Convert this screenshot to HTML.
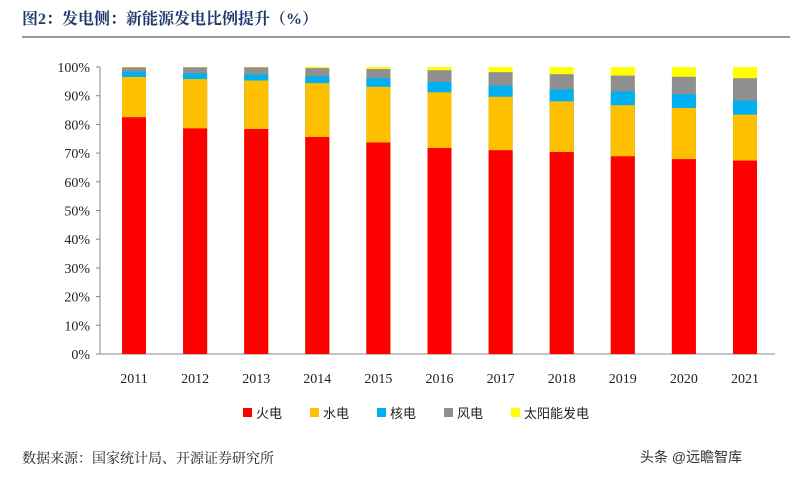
<!DOCTYPE html>
<html><head><meta charset="utf-8"><style>
html,body{margin:0;padding:0;background:#fff;width:796px;height:486px;overflow:hidden}
</style></head><body>
<svg width="796" height="486" xmlns="http://www.w3.org/2000/svg">
<text x="22" y="24" font-family="'Liberation Serif','Noto Serif CJK SC',serif" font-weight="bold" font-size="16" fill="#1f3a6a">图2：发电侧：新能源发电比例提升（%）</text>
<line x1="22" y1="37" x2="790" y2="37" stroke="#777" stroke-width="1.5"/>

<g font-family="'Liberation Serif',serif" font-size="14" fill="#222" text-anchor="end">
<text x="90" y="359">0%</text><text x="90" y="330.3">10%</text><text x="90" y="301.6">20%</text><text x="90" y="272.9">30%</text><text x="90" y="244.2">40%</text><text x="90" y="215.5">50%</text><text x="90" y="186.8">60%</text><text x="90" y="158.1">70%</text><text x="90" y="129.4">80%</text><text x="90" y="100.7">90%</text><text x="90" y="72">100%</text>
</g>
<g stroke="#888">
<line x1="100" y1="67" x2="100" y2="354"/><line x1="100" y1="354" x2="775" y2="354"/>
<line x1="96" y1="354" x2="100" y2="354"/><line x1="96" y1="325.3" x2="100" y2="325.3"/><line x1="96" y1="296.6" x2="100" y2="296.6"/><line x1="96" y1="267.9" x2="100" y2="267.9"/><line x1="96" y1="239.2" x2="100" y2="239.2"/><line x1="96" y1="210.5" x2="100" y2="210.5"/><line x1="96" y1="181.8" x2="100" y2="181.8"/><line x1="96" y1="153.1" x2="100" y2="153.1"/><line x1="96" y1="124.4" x2="100" y2="124.4"/><line x1="96" y1="95.7" x2="100" y2="95.7"/><line x1="96" y1="67" x2="100" y2="67"/>
</g>

<!-- bars: layered from top -->
<g>
<!-- 2011 -->
<rect x="122" y="67" width="24" height="287" fill="#ffff00"/><rect x="122" y="67.3" width="24" height="286.7" fill="#909090"/><rect x="122" y="71.6" width="24" height="282.4" fill="#00b0f0"/><rect x="122" y="77" width="24" height="277" fill="#ffc000"/><rect x="122" y="117.2" width="24" height="236.8" fill="#ff0000"/>
<!-- 2012 -->
<rect x="183.1" y="67" width="24" height="287" fill="#ffff00"/><rect x="183.1" y="67.3" width="24" height="286.7" fill="#909090"/><rect x="183.1" y="73.3" width="24" height="280.7" fill="#00b0f0"/><rect x="183.1" y="79.1" width="24" height="274.9" fill="#ffc000"/><rect x="183.1" y="128.4" width="24" height="225.6" fill="#ff0000"/>
<!-- 2013 -->
<rect x="244.2" y="67" width="24" height="287" fill="#ffff00"/><rect x="244.2" y="67.3" width="24" height="286.7" fill="#909090"/><rect x="244.2" y="74.5" width="24" height="279.5" fill="#00b0f0"/><rect x="244.2" y="80.5" width="24" height="273.5" fill="#ffc000"/><rect x="244.2" y="129" width="24" height="225" fill="#ff0000"/>
<!-- 2014 -->
<rect x="305.3" y="67" width="24" height="287" fill="#ffff00"/><rect x="305.3" y="68.1" width="24" height="285.9" fill="#909090"/><rect x="305.3" y="76.5" width="24" height="277.5" fill="#00b0f0"/><rect x="305.3" y="83.1" width="24" height="270.9" fill="#ffc000"/><rect x="305.3" y="137" width="24" height="217" fill="#ff0000"/>
<!-- 2015 -->
<rect x="366.4" y="67" width="24" height="287" fill="#ffff00"/><rect x="366.4" y="69" width="24" height="285" fill="#909090"/><rect x="366.4" y="78.2" width="24" height="275.8" fill="#00b0f0"/><rect x="366.4" y="86.8" width="24" height="267.2" fill="#ffc000"/><rect x="366.4" y="142.5" width="24" height="211.5" fill="#ff0000"/>
<!-- 2016 -->
<rect x="427.5" y="67" width="24" height="287" fill="#ffff00"/><rect x="427.5" y="70.2" width="24" height="283.8" fill="#909090"/><rect x="427.5" y="81.9" width="24" height="272.1" fill="#00b0f0"/><rect x="427.5" y="92.3" width="24" height="261.7" fill="#ffc000"/><rect x="427.5" y="148" width="24" height="206" fill="#ff0000"/>
<!-- 2017 -->
<rect x="488.6" y="67" width="24" height="287" fill="#ffff00"/><rect x="488.6" y="72.2" width="24" height="281.8" fill="#909090"/><rect x="488.6" y="85.7" width="24" height="268.3" fill="#00b0f0"/><rect x="488.6" y="96.8" width="24" height="257.2" fill="#ffc000"/><rect x="488.6" y="150.2" width="24" height="203.8" fill="#ff0000"/>
<!-- 2018 -->
<rect x="549.7" y="67" width="24" height="287" fill="#ffff00"/><rect x="549.7" y="74.2" width="24" height="279.8" fill="#909090"/><rect x="549.7" y="89.4" width="24" height="264.6" fill="#00b0f0"/><rect x="549.7" y="101.4" width="24" height="252.6" fill="#ffc000"/><rect x="549.7" y="152" width="24" height="202" fill="#ff0000"/>
<!-- 2019 -->
<rect x="610.8" y="67" width="24" height="287" fill="#ffff00"/><rect x="610.8" y="75.6" width="24" height="278.4" fill="#909090"/><rect x="610.8" y="91.4" width="24" height="262.6" fill="#00b0f0"/><rect x="610.8" y="105.2" width="24" height="248.8" fill="#ffc000"/><rect x="610.8" y="156.3" width="24" height="197.7" fill="#ff0000"/>
<!-- 2020 -->
<rect x="671.9" y="67" width="24" height="287" fill="#ffff00"/><rect x="671.9" y="76.8" width="24" height="277.2" fill="#909090"/><rect x="671.9" y="94.3" width="24" height="259.7" fill="#00b0f0"/><rect x="671.9" y="108" width="24" height="246" fill="#ffc000"/><rect x="671.9" y="159.1" width="24" height="194.9" fill="#ff0000"/>
<!-- 2021 -->
<rect x="733" y="67" width="24" height="287" fill="#ffff00"/><rect x="733" y="78.2" width="24" height="275.8" fill="#909090"/><rect x="733" y="100.6" width="24" height="253.4" fill="#00b0f0"/><rect x="733" y="114.6" width="24" height="239.4" fill="#ffc000"/><rect x="733" y="160.6" width="24" height="193.4" fill="#ff0000"/>
</g>

<g font-family="'Liberation Serif',serif" font-size="14" fill="#222" text-anchor="middle">
<text x="134" y="383">2011</text><text x="195.1" y="383">2012</text><text x="256.2" y="383">2013</text><text x="317.3" y="383">2014</text><text x="378.4" y="383">2015</text><text x="439.5" y="383">2016</text><text x="500.6" y="383">2017</text><text x="561.7" y="383">2018</text><text x="622.8" y="383">2019</text><text x="683.9" y="383">2020</text><text x="745" y="383">2021</text>
</g>

<g font-family="'Liberation Sans','Noto Sans CJK SC',sans-serif" font-size="13" fill="#222">
<rect x="243" y="408" width="9" height="9" fill="#ff0000"/><text x="256" y="418">火电</text>
<rect x="310" y="408" width="9" height="9" fill="#ffc000"/><text x="323" y="418">水电</text>
<rect x="377" y="408" width="9" height="9" fill="#00b0f0"/><text x="390" y="418">核电</text>
<rect x="444" y="408" width="9" height="9" fill="#909090"/><text x="457" y="418">风电</text>
<rect x="511" y="408" width="9" height="9" fill="#ffff00"/><text x="524" y="418">太阳能发电</text>
</g>
<text x="22" y="463" font-family="'Liberation Serif','Noto Serif CJK SC',serif" font-size="14" fill="#222">数据来源：国家统计局、开源证券研究所</text>
<text x="640" y="462" font-family="'Liberation Sans','Noto Sans CJK SC',sans-serif" font-size="14" fill="#333">头条 @远瞻智库</text>
</svg>
</body></html>
